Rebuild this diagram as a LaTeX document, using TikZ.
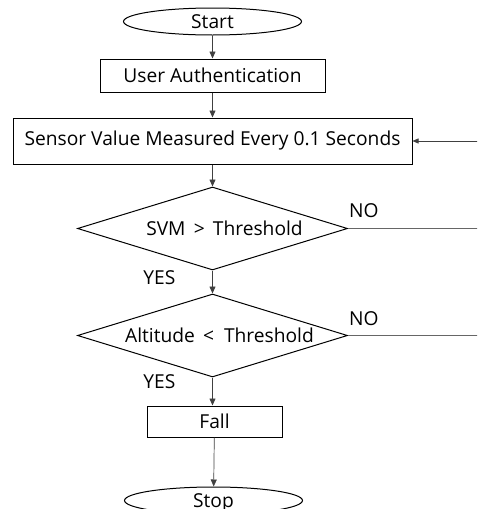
\documentclass[tikz,border=0pt]{standalone}
\usepackage{fontspec}
\setmainfont{Open Sans}
\usetikzlibrary{shapes.geometric,arrows.meta,positioning}

\begin{document}
\begin{tikzpicture}[x=1pt, y=1pt, node distance=20pt,
    font=\fontsize{19.2}{21}\selectfont,
    terminal/.style={ellipse, draw, line width=1pt, inner sep=0pt, text depth=0pt, minimum width=178pt, minimum height=27pt},
    block/.style={rectangle, draw, line width=1pt, inner sep=0pt},
    decision/.style={diamond, draw, line width=1pt, inner sep=0pt, minimum width=270pt, minimum height=83pt},
    note/.style={inner sep=0pt},
    arrow/.style={-{Triangle[length=7pt,width=6pt]}, line width=0.7pt, black!75},
    line/.style={line width=0.7pt, black!60}]

    \path[use as bounding box, clip] (0,0) rectangle (477,-509);

    \node [terminal] (start) at (212.5,-21.5) {Start};
    \node [block, minimum width=225pt, minimum height=33pt, below=23pt of start] (auth) {User Authentication};
    \node [block, minimum width=399pt, minimum height=46pt, below=25pt of auth] (sensor) {Sensor Value Measured Every 0.1 Seconds};
    \node [decision, below=22pt of sensor, label={[xshift=12pt]center:SVM \,>\, Threshold}] (svm) {};
    \node [decision, below=23pt of svm, label={[xshift=7pt]center:Altitude \,<\ \ Threshold}] (alt) {};
    \node [block, minimum width=135pt, minimum height=31pt, below=28pt of alt, xshift=2pt] (fall) {Fall};
    \node [terminal, below=49pt of fall, xshift=-1pt] (stop) {Stop};

    % labels on the branches
    \node [note, above right=11pt and 1pt of svm.east] (no1) {NO};
    \node [note, below left=0pt and 37pt of svm.south] (yes1) {YES};
    \node [note, above right=10pt and 1pt of alt.east] (no2) {NO};
    \node [note, below left=-3pt and 37pt of alt.south] (yes2) {YES};

    % loose ends at the right border
    \coordinate [right=65pt of sensor.east] (back);
    \coordinate [right=131pt of svm.east] (out1);
    \coordinate [right=131pt of alt.east] (out2);

    \draw [arrow] (start) -- (auth);
    \draw [arrow] (auth) -- (sensor);
    \draw [arrow] (sensor) -- (svm);
    \draw [arrow] (svm) -- (alt);
    \draw [arrow] (alt.south) -- (alt.south |- fall.north);
    \draw [arrow] (fall) -- (stop);
    \draw [arrow, -{Triangle[length=6pt,width=5pt]}] (back) -- (sensor);
    \draw [line] (svm.east) -- (out1);
    \draw [line] (alt.east) -- (out2);
\end{tikzpicture}
\end{document}
